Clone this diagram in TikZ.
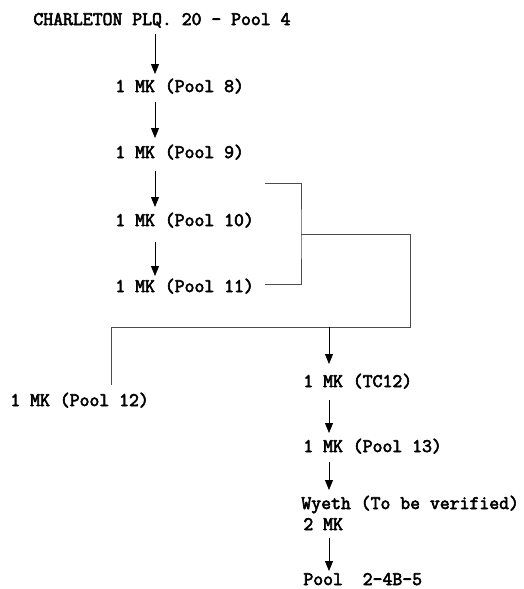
\documentclass[tikz,border=0pt]{standalone}
\usepackage{fontspec}
\newfontfamily\typewriter{Latin Modern Mono}[FakeBold=3]
\usetikzlibrary{arrows.meta, positioning}

\begin{document}
\begin{tikzpicture}[x=1pt, y=-1pt, line width=0.8pt]
        % Define block styles
        \tikzstyle{entry} = [anchor=base west, inner sep=0pt, font=\fontsize{19.2}{22}\typewriter\bfseries]
        \tikzstyle{line} = [draw, -{Triangle[length=10pt, width=8pt]}]
        \tikzstyle{link} = [draw, black!70]

        \useasboundingbox (0,0) rectangle (523,589);

        % Define nodes
        \node [entry] (pool4) at (33,25) {CHARLETON PLQ. 20 - Pool 4};
        \node [entry] (pool8) at (115,92) {1 MK (Pool 8)};
        \node [entry] (pool9) at (115,158) {1 MK (Pool 9)};
        \node [entry] (pool10) at (115,226) {1 MK (Pool 10)};
        \node [entry] (pool11) at (115,292) {1 MK (Pool 11)};
        \node [entry] (pool12) at (10,406) {1 MK (Pool 12)};
        \node [entry] (tc12) at (303,387) {1 MK (TC12)};
        \node [entry] (pool13) at (303,452) {1 MK (Pool 13)};
        \node [entry] (wyeth) at (301,509) {Wyeth (To be verified)};
        \node [entry] (wyethmk) at (303,530) {2 MK};
        \node [entry] (final) at (303,585) {Pool\ \ 2-4B-5};

        % Bracket coordinates
        \coordinate (b1) at (265,183);
        \coordinate (b2) at (301,234);
        \coordinate (b3) at (265,284);
        \coordinate (jn) at (410,327);
        \coordinate (split) at (329,327);

        % Connect nodes with paths
        \path [line] ([shift={(122,9)}]pool4.base west) -- ([shift={(40,-18)}]pool8.base west);
        \path [line] ([shift={(40,10)}]pool8.base west) -- ([shift={(40,-20)}]pool9.base west);
        \path [line] ([shift={(40,13)}]pool9.base west) -- ([shift={(40,-19)}]pool10.base west);
        \path [line] ([shift={(40,16)}]pool10.base west) -- ([shift={(40,-16)}]pool11.base west);
        \path [link] (b1) -| (b2) |- (b3);
        \path [link] (b2) -| (jn) -| ([shift={(101,-21)}]pool12.base west);
        \path [line] (split) -- ([shift={(26,-23)}]tc12.base west);
        \path [line] ([shift={(26,13)}]tc12.base west) -- ([shift={(26,-19)}]pool13.base west);
        \path [line] ([shift={(26,10)}]pool13.base west) -- ([shift={(28,-19)}]wyeth.base west);
        \path [line] ([shift={(26,8)}]wyethmk.base west) -- ([shift={(26,-14)}]final.base west);

    \end{tikzpicture}
\end{document}
